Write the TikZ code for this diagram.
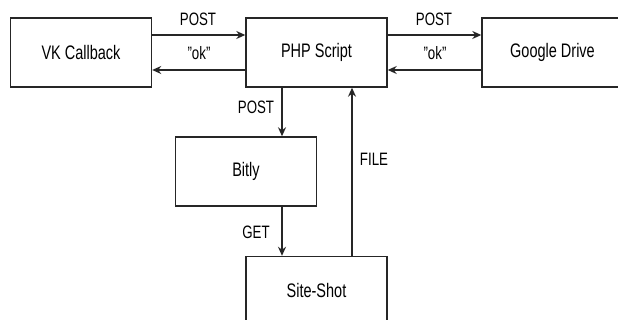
\documentclass[tikz,border=0pt]{standalone}
\usepackage{fontspec}
\usepackage{graphicx}
\setmainfont{Liberation Sans}
\usetikzlibrary{arrows.meta}
\newcommand{\tallt}[1]{\scalebox{1}[1.35]{#1}}
\begin{document}
\begin{tikzpicture}[x=1pt,y=-1pt,
  box/.style={draw=black!85,line width=1.4pt,minimum width=141pt,minimum height=69pt,inner sep=0pt,font=\fontsize{14.5}{17}\selectfont},
  conn/.style={draw=black!85,line width=1.4pt,-{Stealth[length=9pt,width=8pt]}},
  lbl/.style={font=\fontsize{13.3}{16}\selectfont,inner sep=0pt}]
\useasboundingbox (0,0) rectangle (618,320);
\begin{scope}
\clip (0,0) rectangle (618,320);
\node[box] (vk) at (81,52.5) {\tallt{VK Callback}};
\node[box] (php) at (316.5,52.5) {\tallt{PHP Script}};
\node[box] (gd) at (552.5,52.5) {\tallt{Google Drive}};
\node[box] (bitly) at (246,171.5) {\tallt{Bitly}};
\node[box] (ss) at (316.5,291) {\tallt{Site-Shot}};
\end{scope}
\draw[conn] (vk.east |- 0,35) -- (php.west |- 0,35);
\draw[conn] (php.west |- 0,70) -- (vk.east |- 0,70);
\draw[conn] (php.east |- 0,35) -- (gd.west |- 0,35);
\draw[conn] (gd.west |- 0,70) -- (php.east |- 0,70);
\draw[conn] (php.south -| 282,0) -- (bitly.north -| 282,0);
\draw[conn] (bitly.south -| 282,0) -- (ss.north -| 282,0);
\draw[conn] (ss.north -| 352,0) -- (php.south -| 352,0);
\node[lbl] (l1) at (198,19) {\tallt{POST}};
\node[lbl] (l2) at (199,53) {\tallt{"ok"}};
\node[lbl] (l3) at (434,19) {\tallt{POST}};
\node[lbl] (l4) at (435,53) {\tallt{"ok"}};
\node[lbl] (l5) at (256,107) {\tallt{POST}};
\node[lbl] (l6) at (256,232) {\tallt{GET}};
\node[lbl] (l7) at (374,159) {\tallt{FILE}};
\end{tikzpicture}
\end{document}
